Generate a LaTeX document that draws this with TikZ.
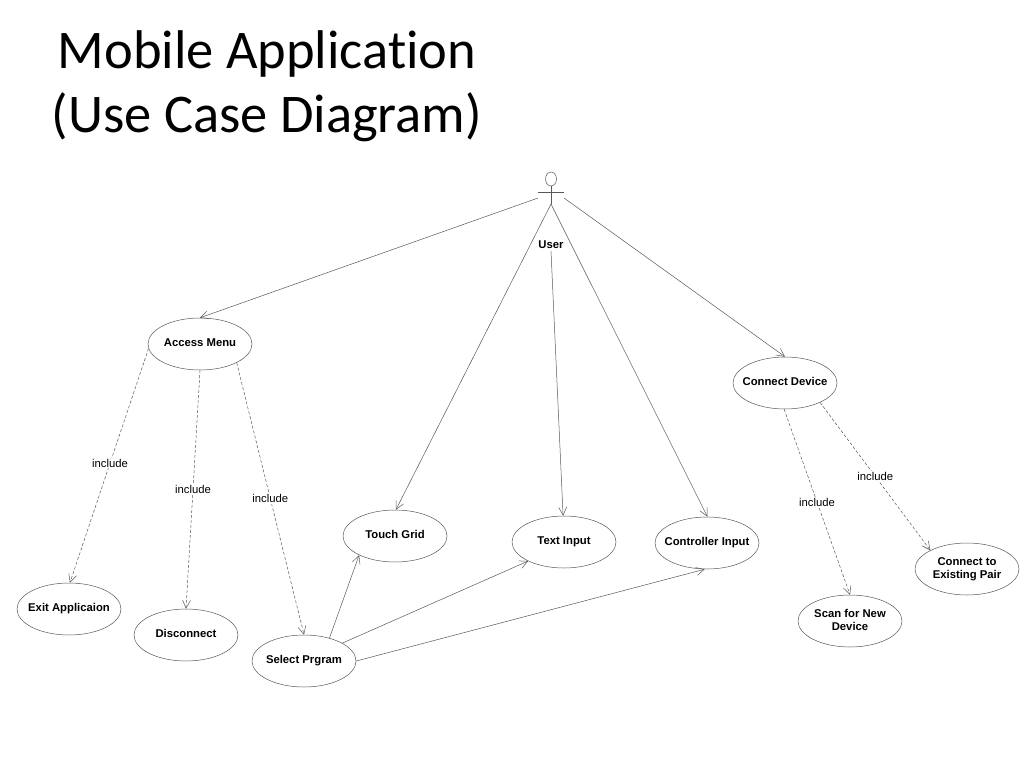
\documentclass[tikz,border=0pt]{standalone}
\usepackage{fontspec}
\setmainfont{Liberation Sans}
\newfontfamily\titlefont[Ligatures={NoCommon}]{Carlito}
\usetikzlibrary{shapes.geometric,arrows.meta,calc}
\newcommand\uclab[1]{\makebox[0pt]{\raisebox{-1.5pt}{\begin{tabular}{@{}c@{}}#1\end{tabular}}}}
\tikzset{
  uc/.style={ellipse, draw=black!65, line width=0.5pt, minimum width=104pt, minimum height=52pt, inner sep=0pt, font=\fontsize{11.3}{13.3}\selectfont\bfseries},
  assoc/.style={draw=black!65, line width=0.5pt, -{Straight Barb[length=8pt,width=8pt]}},
  incl/.style={assoc, dash pattern=on 3pt off 2pt},
  incllab/.style={fill=white, inner sep=1pt, font=\fontsize{11.3}{13}\selectfont},
  stick/.style={draw=black!65, line width=0.5pt},
  titletext/.style={anchor=base, inner sep=0pt, font=\titlefont\fontsize{54.5}{64}\selectfont}
}
\begin{document}
\begin{tikzpicture}[x=1pt,y=-1pt]
\useasboundingbox (0,0) rectangle (1024,768);
\fill[white] (0,0) rectangle (1024,768);

% title
\node[titletext] (t1) at (267,68) {Mobile Application};
\node[titletext] (t2) at (267,132) {(Use Case Diagram)};

% actor
\draw[stick] (551,179) ellipse [x radius=5.5pt, y radius=7pt];
\draw[stick] (538,192) -- (564,192);
\draw[stick] (551,186) -- (551,204);
\coordinate (hip) at (551,204);
\coordinate (uL) at (538,198);
\coordinate (uR) at (564,198);
\node[font=\fontsize{11.3}{13}\selectfont\bfseries, inner sep=2pt] (user) at (551,245) {User};

% use cases
\node[uc] (am) at (200,344) {\uclab{Access Menu}};
\node[uc] (cd) at (785,383) {\uclab{Connect Device}};
\node[uc] (tg) at (395,536) {\uclab{Touch Grid}};
\node[uc] (ti) at (564,542) {\uclab{Text Input}};
\node[uc] (ci) at (707,543) {\uclab{Controller Input}};
\node[uc] (ex) at (69,609) {\uclab{Exit Applicaion}};
\node[uc] (dc) at (186,635) {\uclab{Disconnect}};
\node[uc] (sp) at (304,661) {\uclab{Select Prgram}};
\node[uc] (sn) at (850,621) {\uclab{Scan for New\\Device}};
\node[uc] (cp) at (967,569) {\uclab{Connect to\\Existing Pair}};

% associations from user
\draw[assoc] (uL) -- (am.90);
\draw[assoc] (hip) -- (tg.88);
\draw[assoc] (user.south) -- (ti.92);
\draw[assoc] (hip) -- (ci.89);
\draw[assoc] (uR) -- (cd.north);

% include relations
\draw[incl] (am.185) -- node[incllab, pos=0.49] {include} (ex.88);
\draw[incl] (am.270) -- node[incllab, pos=0.5] {include} (dc.north);
\draw[incl] (am.333) -- node[incllab, pos=0.5] {include} (sp.north);
\draw[incl] (cd.268) -- node[incllab, pos=0.5] {include} (sn.north);
\draw[incl] (cd.331) -- node[incllab, pos=0.5] {include} (cp.153);

% select program links
\draw[assoc] (sp.42) -- (tg.208);
\draw[assoc] (sp.25) -- (ti.208);
\draw[assoc] (sp.east) -- (ci.265);
\end{tikzpicture}
\end{document}
